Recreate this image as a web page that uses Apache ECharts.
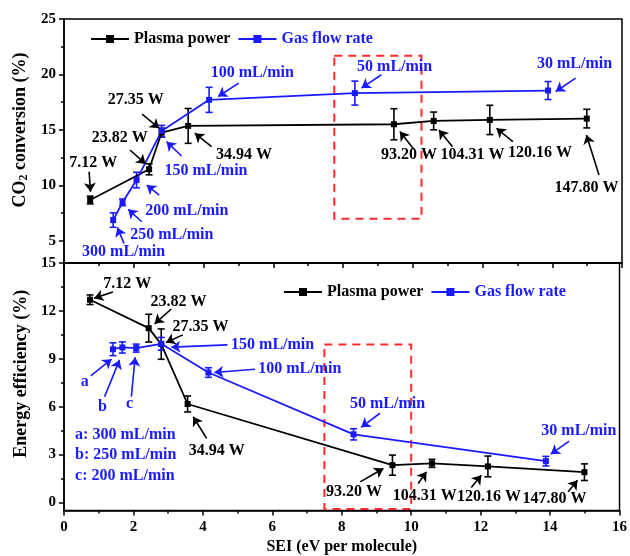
<!DOCTYPE html>
<html>
<head>
<meta charset="utf-8">
<script src="https://cdn.jsdelivr.net/npm/echarts@6/dist/echarts.min.js"></script>
<style>html,body{margin:0;padding:0;background:#fff}#c{width:630px;height:556px}</style>
</head>
<body>
<div id="c"></div>
<script>
// ---- Data ----
const powerLabels = ['7.12 W','23.82 W','27.35 W','34.94 W','93.20 W','104.31 W','120.16 W','147.80 W'];
const powerSEI = [0.75, 2.44, 2.80, 3.56, 9.46, 10.60, 12.21, 14.99];
const powerConv = [8.68, 11.45, 14.76, 15.36, 15.51, 15.81, 15.90, 16.02];
const powerConvErr = [0.35, 0.5, 0.4, 1.57, 1.4, 0.8, 1.32, 0.84];
const powerEff = [12.70, 10.92, 9.92, 6.17, 2.34, 2.45, 2.26, 1.90];
const powerEffErr = [0.3, 0.87, 0.95, 0.5, 0.63, 0.25, 0.65, 0.52];

const flowLabels = ['300 mL/min','250 mL/min','200 mL/min','150 mL/min','100 mL/min','50 mL/min','30 mL/min'];
const flowSEI = [1.41, 1.68, 2.08, 2.80, 4.16, 8.34, 13.88];
const flowConv = [6.87, 8.47, 10.48, 14.91, 17.71, 18.32, 18.55];
const flowConvErr = [0.65, 0.3, 0.7, 0.5, 1.13, 1.08, 0.81];
const flowEff = [9.60, 9.71, 9.67, 9.94, 8.14, 4.27, 2.59];
const flowEffErr = [0.4, 0.35, 0.25, 0.4, 0.3, 0.35, 0.3];

const xTicks = [0, 2, 4, 6, 8, 10, 12, 14, 16];
const convTicks = [5, 10, 15, 20, 25];
const convMinor = [7.5, 12.5, 17.5, 22.5];
const effTicks = [0, 3, 6, 9, 12, 15];
const effMinor = [1.5, 4.5, 7.5, 10.5, 13.5];

// Annotations: text, colour key, text position, arrow tail, arrow head (data units)
const convNotes = [
  ['7.12 W','k',[0.84,12.05],[0.72,11.23],[0.76,9.42]],
  ['23.82 W','k',[1.60,14.3],[1.89,13.19],[2.34,11.93]],
  ['27.35 W','k',[2.06,17.71],[2.24,16.42],[2.73,15.15]],
  ['34.94 W','k',[5.16,12.74],[4.23,13.49],[3.75,14.70]],
  ['93.20 W','k',[9.89,12.74],[10.03,13.26],[9.63,14.85]],
  ['104.31 W','k',[11.71,12.74],[11.14,13.49],[10.75,15.0]],
  ['120.16 W','k',[13.65,12.89],[12.87,13.94],[12.40,15.15]],
  ['147.80 W','k',[14.98,9.73],[15.34,10.93],[14.98,14.55]],
  ['150 mL/min','b',[4.07,11.32],[3.37,12.65],[2.94,13.94]],
  ['200 mL/min','b',[3.52,7.71],[2.73,9.13],[2.37,10.03]],
  ['250 mL/min','b',[3.09,5.51],[2.23,6.72],[1.84,7.84]],
  ['300 mL/min','b',[1.71,4.0],[1.72,4.77],[1.53,6.21]],
  ['100 mL/min','b',[5.40,20.12],[5.01,19.22],[4.42,18.01]],
  ['50 mL/min','b',[9.48,20.72],[9.10,19.97],[8.53,18.77]],
  ['30 mL/min','b',[14.64,20.93],[14.67,19.67],[14.10,18.46]]
];
const effNotes = [
  ['7.12 W','k',[1.82,13.68],[1.41,13.18],[0.87,12.8]],
  ['23.82 W','k',[3.30,12.59],[3.09,12.12],[2.61,11.19]],
  ['27.35 W','k',[3.93,10.99],[3.42,10.5],[2.94,10.02]],
  ['34.94 W','k',[4.40,3.22],[4.11,4.02],[3.72,5.37]],
  ['93.20 W','k',[8.35,0.67],[8.53,1.29],[9.20,2.13]],
  ['104.31 W','k',[10.39,0.40],[10.20,1.19],[10.44,1.92]],
  ['120.16 W','k',[12.24,0.35],[11.73,0.94],[12.02,1.71]],
  ['147.80 W','k',[14.13,0.25],[14.52,0.67],[14.79,1.40]],
  ['150 mL/min','b',[6.01,9.87],[4.71,9.87],[3.09,9.73]],
  ['100 mL/min','b',[6.79,8.35],[5.50,8.35],[4.33,8.14]],
  ['a','b',[0.60,7.57],[0.77,7.93],[1.37,8.98]],
  ['b','b',[1.11,6.0],[1.17,6.63],[1.60,8.93]],
  ['c','b',[1.89,6.17],[1.94,6.63],[2.05,9.1]],
  ['50 mL/min','b',[9.32,6.17],[9.10,5.59],[8.56,4.71]],
  ['30 mL/min','b',[14.83,4.48],[14.55,3.85],[14.02,3.03]]
];
const keyNotes = [['a: 300 mL/min',[0.32,4.22]],['b: 250 mL/min',[0.32,2.97]],['c: 200 mL/min',[0.32,1.65]]];
const convBox = [[7.75,21.68],[10.25,7.0]];
const effBox = [[7.5,9.9],[10.0,-0.4]];

// ---- Styles ----
const BLUE = '#1a1aff', BLACK = '#000', RED = '#ff2a2a';
const FONT = 'Liberation Serif';
const col = k => k === 'b' ? BLUE : BLACK;

function errRender(color){
  return function(params, api){
    const x = api.value(0), lo = api.value(1), hi = api.value(2);
    const p1 = api.coord([x, lo]), p2 = api.coord([x, hi]);
    const w = 3.5, st = {stroke: color, lineWidth: 1.6};
    return {type:'group', children:[
      {type:'line', shape:{x1:p1[0],y1:p1[1],x2:p2[0],y2:p2[1]}, style:st},
      {type:'line', shape:{x1:p1[0]-w,y1:p1[1],x2:p1[0]+w,y2:p1[1]}, style:st},
      {type:'line', shape:{x1:p2[0]-w,y1:p2[1],x2:p2[0]+w,y2:p2[1]}, style:st}
    ]};
  };
}
const zip = (xs, ys) => xs.map((x,i)=>[x, ys[i]]);
const errData = (xs, ys, es) => xs.map((x,i)=>[x, ys[i]-es[i], ys[i]+es[i]]);

function lineSeries(name, xs, ys, color, gi, box){
  const s = {type:'line', name, xAxisIndex:gi, yAxisIndex:gi*2, data:zip(xs,ys),
    symbol:'rect', symbolSize:6, showSymbol:true, z:5,
    lineStyle:{color, width:1.8}, itemStyle:{color}};
  if (box) s.markArea = {silent:true, data:[[{coord:box[0]},{coord:box[1]}]],
    itemStyle:{color:'rgba(0,0,0,0)', borderColor:RED, borderWidth:2, borderType:[8,6]}, label:{show:false}};
  return s;
}
function errSeries(xs, ys, es, color, gi){
  return {type:'custom', xAxisIndex:gi, yAxisIndex:gi*2, data:errData(xs,ys,es),
    renderItem:errRender(color), encode:{x:0, y:[1,2]}, z:4, silent:true};
}
const labelBase = {show:true, position:'inside', formatter:p=>p.name, fontFamily:FONT, fontWeight:'bold', fontSize:16, verticalAlign:'middle', opacity:1, textBorderWidth:0};
function noteSeries(notes, gi){
  return [
    {type:'scatter', xAxisIndex:gi, yAxisIndex:gi*2, symbolSize:0.1, silent:true, z:6,
      itemStyle:{color:'rgba(0,0,0,0)', opacity:1},
      data: notes.map(n=>({value:n[2], name:n[0], label:{color:col(n[1])}})),
      label:{...labelBase, align:'center'}},
    {type:'lines', coordinateSystem:'cartesian2d', xAxisIndex:gi, yAxisIndex:gi*2, silent:true, z:6,
      symbol:['none','arrow'], symbolSize:9,
      lineStyle:{width:1.6, opacity:1},
      data: notes.map(n=>({coords:[n[3], n[4]], lineStyle:{color:col(n[1]), width:1.6, opacity:1}}))}
  ];
}

const axisText = {fontFamily:FONT, fontWeight:'bold', fontSize:15, color:BLACK};
function yAxes(gi, min, max, ticks, minor, name, namePad){
  return [
    {type:'value', gridIndex:gi, min, max, position:'left',
      axisLine:{show:true, onZero:false, lineStyle:{color:BLACK, width:1.5}},
      axisTick:{show:true, inside:false, length:5, customValues:ticks, lineStyle:{color:BLACK, width:1.5}},
      axisLabel:{show:true, margin:8, customValues:ticks, ...axisText},
      splitLine:{show:false},
      name, nameLocation:'middle', nameGap:32,
      nameTextStyle:{fontFamily:FONT, fontWeight:'bold', fontSize:18, color:BLACK, padding:namePad,
        rich:{a:{fontFamily:FONT, fontWeight:'bold', fontSize:18, color:BLACK},
              s:{fontFamily:FONT, fontWeight:'bold', fontSize:12, color:BLACK, padding:[8,0,0,0]}}}},
    {type:'value', gridIndex:gi, min, max, position:'left',
      axisLine:{show:false}, axisLabel:{show:false}, splitLine:{show:false},
      axisTick:{show:true, inside:false, length:3, customValues:minor, lineStyle:{color:BLACK, width:1.5}}}
  ];
}
const legendText = {fontFamily:FONT, fontWeight:'bold', fontSize:16};
const legendData = [{name:'Plasma power', textStyle:{color:BLACK}}, {name:'Gas flow rate', textStyle:{color:BLUE}}];

const option = {
  animation:false,
  backgroundColor:'#fff',
  grid:[
    {left:64, right:8, top:19, height:244, show:true, borderColor:BLACK, borderWidth:1.5, backgroundColor:'rgba(0,0,0,0)'},
    {left:64, right:8, top:263, height:247.5, show:true, borderColor:BLACK, borderWidth:1.5, backgroundColor:'rgba(0,0,0,0)'}
  ],
  legend:[
    {left:85, top:26, itemWidth:38, itemHeight:10, itemGap:7, selectedMode:false, textStyle:legendText, data:legendData},
    {left:278, top:279, itemWidth:38, itemHeight:10, itemGap:7, selectedMode:false, textStyle:legendText, data:legendData}
  ],
  xAxis:[
    {type:'value', gridIndex:0, min:0, max:16, interval:2, position:'bottom',
      axisLine:{show:true, onZero:false, lineStyle:{color:BLACK, width:1.5}},
      axisTick:{show:true, inside:false, length:5, lineStyle:{color:BLACK, width:1.5}},
      minorTick:{show:true, splitNumber:2, length:3, lineStyle:{color:BLACK, width:1.5}},
      axisLabel:{show:false}, splitLine:{show:false}},
    {type:'value', gridIndex:1, min:0, max:16, interval:2, position:'bottom',
      axisLine:{show:true, onZero:false, lineStyle:{color:BLACK, width:1.5}},
      axisTick:{show:true, inside:false, length:5, lineStyle:{color:BLACK, width:1.5}},
      minorTick:{show:true, splitNumber:2, length:3, lineStyle:{color:BLACK, width:1.5}},
      axisLabel:{show:true, margin:9, customValues:xTicks, ...axisText}, splitLine:{show:false},
      name:'SEI (eV per molecule)', nameLocation:'middle', nameGap:28,
      nameTextStyle:{fontFamily:FONT, fontWeight:'bold', fontSize:16, color:BLACK}}
  ],
  yAxis:[
    ...yAxes(0, 3, 25, convTicks, convMinor, '{a|CO}{s|2}{a| conversion (%)}', [0,0,0,22]),
    ...yAxes(1, -0.5, 15, effTicks, effMinor, 'Energy efficiency (%)', [0,0,0,26])
  ],
  series:[
    errSeries(powerSEI, powerConv, powerConvErr, BLACK, 0),
    errSeries(flowSEI, flowConv, flowConvErr, BLUE, 0),
    lineSeries('Plasma power', powerSEI, powerConv, BLACK, 0, convBox),
    lineSeries('Gas flow rate', flowSEI, flowConv, BLUE, 0),
    ...noteSeries(convNotes, 0),
    errSeries(powerSEI, powerEff, powerEffErr, BLACK, 1),
    errSeries(flowSEI, flowEff, flowEffErr, BLUE, 1),
    lineSeries('Plasma power', powerSEI, powerEff, BLACK, 1, effBox),
    lineSeries('Gas flow rate', flowSEI, flowEff, BLUE, 1),
    ...noteSeries(effNotes, 1),
    {type:'scatter', xAxisIndex:1, yAxisIndex:2, symbolSize:0.1, silent:true, z:6,
      itemStyle:{color:'rgba(0,0,0,0)', opacity:1},
      data:keyNotes.map(n=>({value:n[1], name:n[0]})),
      label:{...labelBase, color:BLUE, align:'left'}}
  ]
};
const chart = echarts.init(document.getElementById('c'), null, {renderer:'canvas'});
chart.setOption(option);
</script>
</body>
</html>
